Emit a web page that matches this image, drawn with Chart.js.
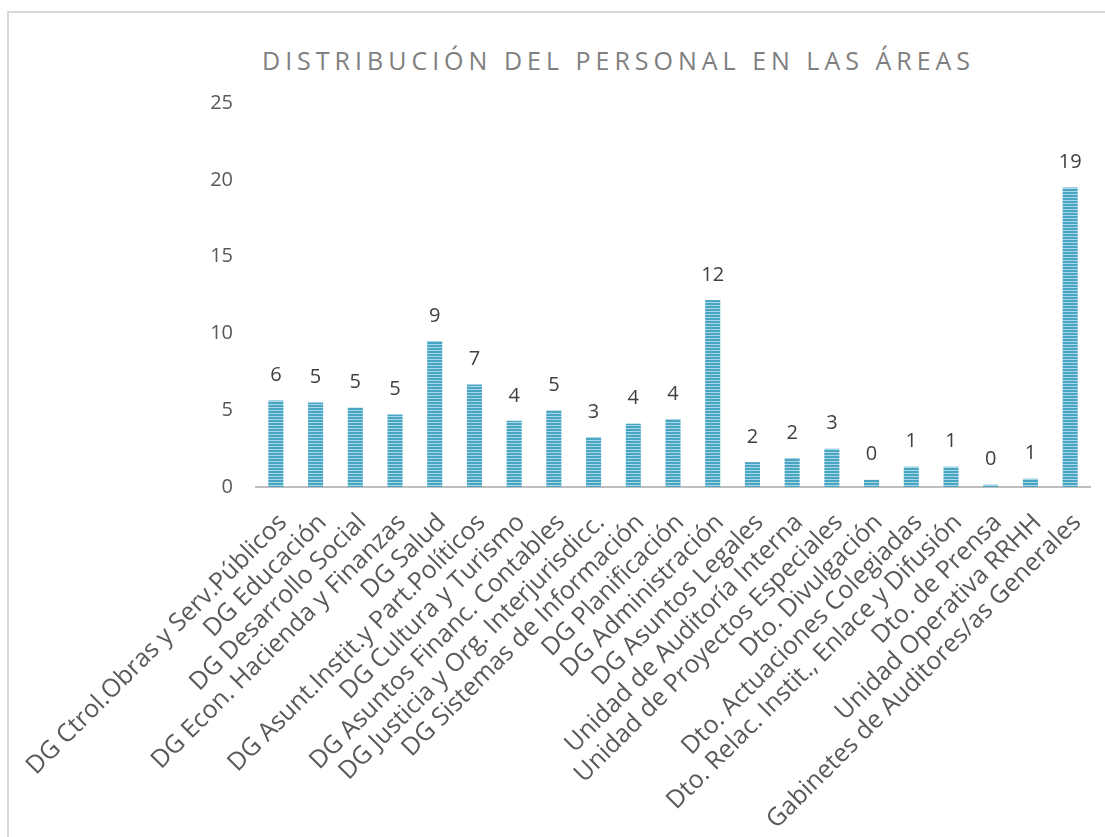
<!DOCTYPE html>
<html>
<head>
<meta charset="utf-8">
<script src="https://cdn.jsdelivr.net/npm/chart.js@4/dist/chart.umd.min.js"></script>
<style>
  html, body { margin:0; padding:0; background:#fff; overflow:hidden; }
  #wrap { position:relative; width:1105px; height:837px; overflow:hidden; }
  #frame { position:absolute; left:7px; top:11px; width:1200px; height:900px;
           border-left:2px solid #d9d9d9; border-top:2px solid #d9d9d9; }
  #title { position:absolute; left:262px; top:43px; font-family:"Open Sans", sans-serif;
           font-size:25px; font-weight:400; letter-spacing:5px; color:#7f7f7f; white-space:nowrap; }
  canvas { position:absolute; left:0; top:0; }
</style>
</head>
<body>
<div id="wrap">
  <div id="frame"></div>
  <div id="title">DISTRIBUCIÓN DEL PERSONAL EN LAS ÁREAS</div>
  <canvas id="chart" width="1105" height="837"></canvas>
</div>
<script>
const areas = [
  'DG Ctrol.Obras y Serv.Públicos', 'DG Educación', 'DG Desarrollo Social',
  'DG Econ. Hacienda y Finanzas', 'DG Salud', 'DG Asunt.Instit.y Part.Políticos',
  'DG Cultura y Turismo', 'DG Asuntos Financ. Contables', 'DG Justicia y Org. Interjurisdicc.',
  'DG Sistemas de Información', 'DG Planificación', 'DG Administración',
  'DG Asuntos Legales', 'Unidad de Auditoría Interna', 'Unidad de Proyectos Especiales',
  'Dto. Divulgación', 'Dto. Actuaciones Colegiadas', 'Dto. Relac. Instit., Enlace y Difusión',
  'Dto. de Prensa', 'Unidad Operativa RRHH', 'Gabinetes de Auditores/as Generales'
];
// bar heights as drawn
const personal = [5.63, 5.5, 5.18, 4.72, 9.51, 6.67, 4.31, 5.0, 3.25, 4.12, 4.42, 12.18,
                  1.62, 1.89, 2.49, 0.47, 1.32, 1.32, 0.15, 0.54, 19.5];
// numbers printed over the bars
const etiquetas = [6, 5, 5, 5, 9, 7, 4, 5, 3, 4, 4, 12, 2, 2, 3, 0, 1, 1, 0, 1, 19];
const yTicks = [0, 5, 10, 15, 20, 25];

// striped fill like the original
function stripes(){
  const c = document.createElement('canvas');
  c.width = 4; c.height = 3;
  const g = c.getContext('2d');
  g.fillStyle = '#4aa5c2'; g.fillRect(0, 0, 4, 2);
  g.fillStyle = '#a8d7e6'; g.fillRect(0, 2, 4, 1);
  return g.createPattern(c, 'repeat');
}

const valueLabels = {
  id: 'valueLabels',
  afterDatasetsDraw(chart){
    const ctx = chart.ctx;
    const meta = chart.getDatasetMeta(0);
    ctx.save();
    ctx.font = '20px "Open Sans", sans-serif';
    ctx.fillStyle = '#404040';
    ctx.textAlign = 'center';
    ctx.textBaseline = 'middle';
    meta.data.forEach((bar, i) => ctx.fillText(String(etiquetas[i]), bar.x, bar.y - 25));
    ctx.restore();
  }
};

const ctx = document.getElementById('chart').getContext('2d');
new Chart(ctx, {
  type: 'bar',
  data: { labels: areas, datasets: [{ data: personal, backgroundColor: stripes(),
          barPercentage: 0.38, categoryPercentage: 1 }] },
  options: {
    responsive: false,
    animation: false,
    layout: { padding: { top: 103, right: 15, left: 0, bottom: 0 } },
    plugins: { legend: { display: false }, tooltip: { enabled: false }, title: { display: false } },
    scales: {
      x: {
        grid: { display: false, drawTicks: false },
        border: { color: '#bfbfbf', width: 2 },
        ticks: { color: '#595959', font: { family: '"Open Sans", sans-serif', size: 25 },
                 maxRotation: 45, minRotation: 45, autoSkip: false, padding: 21, labelOffset: 7 },
        afterFit(scale){ scale.height = 350; scale.paddingLeft = 0; scale.paddingRight = 0; }
      },
      y: {
        min: 0, max: 25,
        afterBuildTicks(scale){ scale.ticks = yTicks.map(v => ({ value: v })); },
        grid: { display: false, drawTicks: false },
        border: { display: false },
        ticks: { color: '#595959', font: { family: '"Open Sans", sans-serif', size: 20 }, padding: 23 },
        afterFit(scale){ scale.width = 256; }
      }
    }
  },
  plugins: [valueLabels]
});
</script>
</body>
</html>
